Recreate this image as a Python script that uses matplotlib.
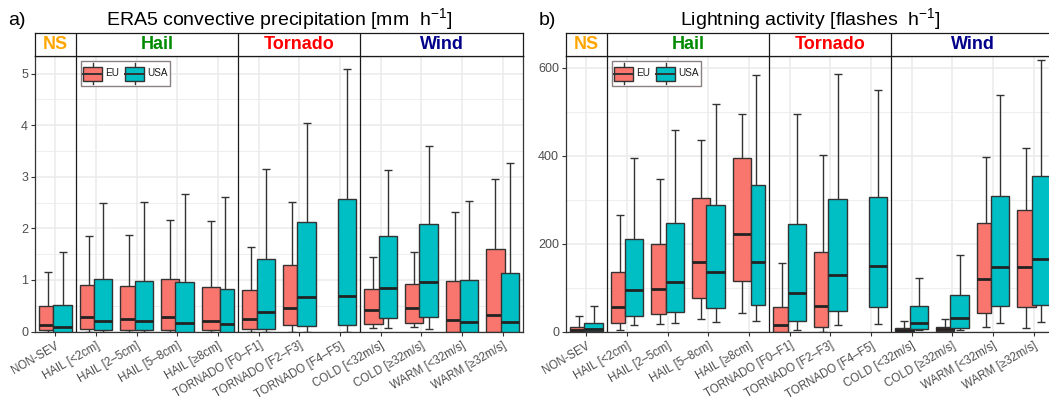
import numpy as np
import matplotlib
matplotlib.use("Agg")
import matplotlib.pyplot as plt
from matplotlib.patches import Rectangle, Patch
from matplotlib.lines import Line2D
from matplotlib.legend_handler import HandlerBase
from matplotlib.ticker import MultipleLocator

plt.rcParams['font.family'] = ['Liberation Sans', 'DejaVu Sans']
plt.rcParams['mathtext.fontset'] = 'custom'
plt.rcParams['mathtext.rm'] = 'Liberation Sans'
plt.rcParams['mathtext.it'] = 'Liberation Sans:italic'
plt.rcParams['mathtext.bf'] = 'Liberation Sans:bold'

# ---------------- data ----------------
categories = ["NON-SEV", "HAIL [<2cm]", "HAIL [2–5cm]", "HAIL [5–8cm]", "HAIL [≥8cm]",
              "TORNADO [F0–F1]", "TORNADO [F2–F3]", "TORNADO [F4–F5]",
              "COLD [<32m/s]", "COLD [≥32m/s]", "WARM [<32m/s]", "WARM [≥32m/s]"]
groups = ["NS", "Hail", "Tornado", "Wind"]
group_sizes = [1, 4, 3, 4]
series = ["EU", "USA"]

# relative box widths (varwidth, ~sqrt(n))
eu_rel_width = [0.78, 0.78, 0.78, 1.0, 1.0, 0.78, 0.78, np.nan, 1.0, 1.0, 0.78, 1.0]
usa_rel_width = [1.0, 1.0, 1.0, 1.0, 0.78, 1.0, 1.0, 1.0, 1.0, 1.0, 1.0, 1.0]

# a) ERA5 convective precipitation [mm h-1]
cp_eu_lo = [0, 0, 0, 0, 0, 0, 0, np.nan, 0.06, 0.09, 0, 0]
cp_eu_q1 = [0.02, 0.05, 0.03, 0.03, 0.02, 0.05, 0.13, np.nan, 0.15, 0.17, 0, 0]
cp_eu_med = [0.13, 0.285, 0.25, 0.285, 0.21, 0.25, 0.46, np.nan, 0.41, 0.45, 0.23, 0.32]
cp_eu_q3 = [0.49, 0.90, 0.88, 1.02, 0.87, 0.81, 1.28, np.nan, 0.82, 0.93, 0.97, 1.60]
cp_eu_hi = [1.15, 1.85, 1.87, 2.16, 2.14, 1.63, 2.51, np.nan, 1.44, 1.54, 2.31, 2.96]

cp_usa_lo = [0, 0, 0, 0, 0, 0, 0, 0, 0.06, 0.05, 0, 0]
cp_usa_q1 = [0, 0.02, 0.02, 0, 0, 0.05, 0.11, 0.12, 0.27, 0.29, 0, 0]
cp_usa_med = [0.08, 0.20, 0.20, 0.16, 0.15, 0.38, 0.67, 0.68, 0.84, 0.96, 0.19, 0.175]
cp_usa_q3 = [0.51, 1.01, 0.98, 0.96, 0.82, 1.40, 2.12, 2.56, 1.85, 2.08, 1.00, 1.13]
cp_usa_hi = [1.54, 2.49, 2.51, 2.67, 2.60, 3.15, 4.05, 5.08, 3.13, 3.59, 2.53, 3.26]

# b) Lightning activity [flashes h-1]
lt_eu_lo = [0, 3, 16, 29, 43, 0, 0, np.nan, 0, 0, 11, 9]
lt_eu_q1 = [0, 19, 39, 76, 116, 0, 11, np.nan, 1, 1.5, 42, 55]
lt_eu_med = [4, 56, 96, 159, 221, 14, 57, np.nan, 4, 5, 120, 146]
lt_eu_q3 = [11, 136, 200, 303, 394, 55, 180, np.nan, 8, 11, 247, 276]
lt_eu_hi = [36, 266, 347, 435, 495, 156, 401, np.nan, 23, 28, 398, 418]

lt_usa_lo = [0, 15, 19, 22, 23, 3, 14, 17, 3, 3, 19, 22]
lt_usa_q1 = [1, 36, 44, 53, 60, 23, 47, 56, 6, 8, 57, 61]
lt_usa_med = [6, 94, 112, 136, 159, 87, 129, 150, 20, 30, 147, 166]
lt_usa_q3 = [19, 210, 247, 288, 334, 244, 301, 306, 58, 82, 309, 354]
lt_usa_hi = [57, 395, 458, 517, 583, 495, 585, 549, 121, 175, 539, 617]

# ---------------- style ----------------
EU_COL = "#F8766D"
USA_COL = "#00BFC4"
EDGE = "#333333"
GROUP_COLORS = ["#FFA500", "#008B00", "#FF0000", "#00008B"]
GRID = "#EBEBEB"
TXT = "#4D4D4D"

W_PX, H_PX = 1049, 401
fig = plt.figure(figsize=(W_PX / 100, H_PX / 100), dpi=100)


def fx(px):
    return px / W_PX


def fy(py):
    return 1 - py / H_PX


class BoxHandler(HandlerBase):
    def create_artists(self, legend, orig_handle, xdescent, ydescent, width, height,
                       fontsize, trans):
        fc = orig_handle.get_facecolor()
        bh = height * 0.68
        x0 = -xdescent
        y0 = -ydescent + (height - bh) / 2
        rect = Rectangle((x0, y0), width, bh, facecolor=fc, edgecolor=EDGE, lw=1.0,
                         transform=trans)
        med = Line2D([x0, x0 + width], [y0 + bh / 2] * 2, color=EDGE, lw=1.4, transform=trans)
        wl = Line2D([x0 + width / 2] * 2, [-ydescent, y0], color=EDGE, lw=1.0, transform=trans)
        wu = Line2D([x0 + width / 2] * 2, [y0 + bh, -ydescent + height], color=EDGE, lw=1.0,
                    transform=trans)
        return [wl, wu, rect, med]


def draw_boxes(ax, stats, rel_width, side, color, z):
    x = np.arange(1, len(categories) + 1, dtype=float)
    lo, q1, med, q3, hi = [np.asarray(a, dtype=float) for a in stats]
    w = 0.45 * np.asarray(rel_width, dtype=float)
    ok = ~np.isnan(med)
    outer = x + side * 0.40
    left = outer if side < 0 else outer - w
    wx = x + side * 0.18
    cap = 0.19
    kw = dict(color=EDGE, lw=1.0, zorder=z)
    ax.vlines(wx[ok], q3[ok], hi[ok], **kw)
    ax.vlines(wx[ok], lo[ok], q1[ok], **kw)
    ax.hlines(hi[ok], wx[ok] - cap / 2, wx[ok] + cap / 2, **kw)
    ax.hlines(lo[ok], wx[ok] - cap / 2, wx[ok] + cap / 2, **kw)
    ax.bar(left[ok], (q3 - q1)[ok], bottom=q1[ok], width=w[ok], align='edge',
           facecolor=color, edgecolor=EDGE, lw=1.0, zorder=z + 0.1)
    ax.hlines(med[ok], left[ok], left[ok] + w[ok], color="#222222", lw=2.0, zorder=z + 0.2)


def make_panel(left_px, label, title, eu_stats, usa_stats, ymax, major, minor):
    width_px = 488
    ax = fig.add_axes([fx(left_px), fy(331.5), fx(width_px), (331.5 - 56) / H_PX])
    sax = fig.add_axes([fx(left_px), fy(56), fx(width_px), 23.5 / H_PX])
    n = len(categories)
    ax.set_xlim(0.5, n + 0.5)
    ax.set_ylim(0, ymax)
    ax.set_axisbelow(True)
    ax.yaxis.set_major_locator(MultipleLocator(major))
    ax.yaxis.set_minor_locator(MultipleLocator(minor))
    ax.set_xticks(np.arange(1, n + 1))
    ax.set_xticklabels(categories, rotation=30, ha='right', rotation_mode='anchor',
                       fontsize=8.3, color=TXT)
    ax.tick_params(axis='x', length=3, width=0.8, color=EDGE, pad=3)
    ax.tick_params(axis='y', length=3, width=0.8, color=EDGE, labelsize=9, labelcolor=TXT, pad=2)
    ax.tick_params(axis='y', which='minor', length=0)
    ax.grid(True, which='major', color=GRID, lw=1.1)
    ax.grid(True, which='minor', axis='y', color=GRID, lw=0.6)
    for s in ax.spines.values():
        s.set_color(EDGE)
        s.set_linewidth(0.9)

    draw_boxes(ax, eu_stats, eu_rel_width, -1, EU_COL, 2)
    draw_boxes(ax, usa_stats, usa_rel_width, +1, USA_COL, 5)

    bounds = np.cumsum(group_sizes)[:-1] + 0.5
    ax.vlines(bounds, 0, 1, transform=ax.get_xaxis_transform(), color="#1a1a1a", lw=0.9,
              zorder=8)

    # strip
    sax.set_xlim(0.5, n + 0.5)
    sax.set_ylim(0, 1)
    sax.set_xticks([])
    sax.set_yticks([])
    for s in sax.spines.values():
        s.set_color("#1a1a1a")
        s.set_linewidth(0.9)
    sax.vlines(bounds, 0, 1, color="#1a1a1a", lw=0.9)
    starts = np.concatenate([[0.5], bounds])
    ends = np.concatenate([bounds, [n + 0.5]])
    for g, a, b, c in zip(groups, starts, ends, GROUP_COLORS):
        sax.text((a + b) / 2, 0.47, g, ha='center', va='center', fontsize=13,
                 fontweight='bold', color=c)

    # titles
    fig.text(fx(left_px - 27), fy(25), label, ha='left', va='baseline', fontsize=14)
    fig.text(fx(left_px + width_px / 2), fy(25), title, ha='center', va='baseline', fontsize=14)

    handles = [Patch(facecolor=EU_COL, label=series[0]), Patch(facecolor=USA_COL, label=series[1])]
    leg = ax.legend(handles=handles, handler_map={Patch: BoxHandler()}, ncol=2,
                    loc='upper left', bbox_to_anchor=(46 / width_px, (331.5 - 61) / 275.5),
                    borderaxespad=0, fontsize=7.2, handlelength=1.9, handleheight=2.8,
                    handletextpad=0.3, columnspacing=0.6, borderpad=0.22, fancybox=False,
                    framealpha=1, edgecolor="#8a8080", frameon=True)
    leg.get_frame().set_linewidth(1.0)
    leg.set_zorder(10)
    for t in leg.get_texts():
        t.set_color("#1a1a1a")
    return ax


make_panel(35, "a)", "ERA5 convective precipitation [mm  h$^{-1}$]",
           (cp_eu_lo, cp_eu_q1, cp_eu_med, cp_eu_q3, cp_eu_hi),
           (cp_usa_lo, cp_usa_q1, cp_usa_med, cp_usa_q3, cp_usa_hi),
           5.34, 1, 0.5)
make_panel(566, "b)", "Lightning activity [flashes  h$^{-1}$]",
           (lt_eu_lo, lt_eu_q1, lt_eu_med, lt_eu_q3, lt_eu_hi),
           (lt_usa_lo, lt_usa_q1, lt_usa_med, lt_usa_q3, lt_usa_hi),
           627, 200, 100)

fig.savefig("out.png", dpi=100)
